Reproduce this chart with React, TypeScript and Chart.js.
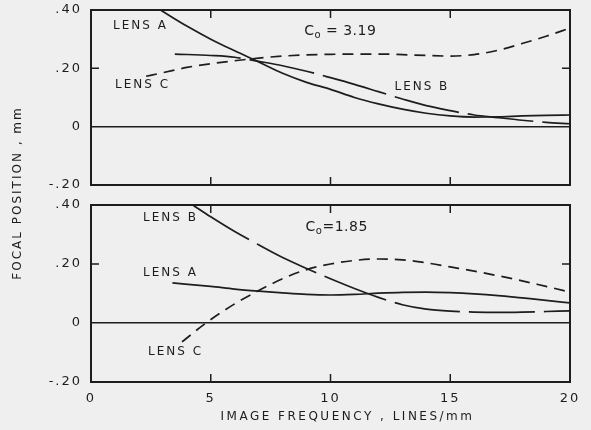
import React, { useEffect, useRef } from 'react';
import { Chart, registerables } from 'chart.js';

Chart.register(...registerables);

const INK = '#1d1d1d';
const PAPER = '#efefef';
const FONT = '"DejaVu Sans", "Liberation Sans", sans-serif';

const xTickValues = [0, 5, 10, 15, 20];
const xTickLabels = ['0', '5', '10', '15', '20'];
const yTickValues = [-0.2, 0, 0.2, 0.4];
const yTickLabels = ['-.20', '0', '.20', '.40'];
const innerXTicks = [5, 10, 15];
const innerYTicks = [0.2];

// Upper panel, C0 = 3.19
const upperLensAFreq = [2.9, 4, 5, 6, 7, 8, 9, 10, 11, 12, 13, 14, 15, 16, 17, 18, 19, 20];
const upperLensAFocus = [0.4, 0.345, 0.3, 0.26, 0.222, 0.183, 0.152, 0.128, 0.1, 0.078, 0.06, 0.046, 0.037, 0.033, 0.034, 0.037, 0.039, 0.04];
const upperLensBFreq = [3.5, 5, 6, 7, 8, 9, 10, 11, 12, 13, 14, 15, 16, 17, 18, 19, 20];
const upperLensBFocus = [0.249, 0.244, 0.238, 0.224, 0.209, 0.19, 0.168, 0.145, 0.12, 0.095, 0.072, 0.055, 0.04, 0.031, 0.022, 0.015, 0.01];
const upperLensCFreq = [2.3, 3, 4, 5, 6, 7, 8, 9, 10, 11, 12, 13, 14, 15, 16, 17, 18, 19, 20];
const upperLensCFocus = [0.173, 0.185, 0.203, 0.216, 0.226, 0.235, 0.242, 0.246, 0.248, 0.249, 0.249, 0.247, 0.244, 0.242, 0.247, 0.262, 0.285, 0.31, 0.338];

// Lower panel, C0 = 1.85
const lowerLensAFreq = [3.4, 5, 6, 7, 8, 9, 10, 11, 12, 13, 14, 15, 16, 17, 18, 19, 20];
const lowerLensAFocus = [0.136, 0.124, 0.115, 0.108, 0.102, 0.097, 0.095, 0.097, 0.101, 0.104, 0.105, 0.103, 0.099, 0.093, 0.085, 0.077, 0.068];
const lowerLensBFreq = [4.25, 5, 6, 7, 8, 9, 10, 11, 12, 13, 14, 15, 16, 17, 18, 19, 20];
const lowerLensBFocus = [0.4, 0.36, 0.31, 0.265, 0.222, 0.185, 0.15, 0.117, 0.087, 0.062, 0.047, 0.04, 0.037, 0.036, 0.037, 0.039, 0.041];
const lowerLensCFreq = [3.8, 4.8, 6, 7, 8, 9, 10, 11, 12, 13, 14, 15, 16, 17, 18, 19, 20];
const lowerLensCFocus = [-0.064, 0, 0.065, 0.11, 0.15, 0.181, 0.2, 0.212, 0.217, 0.214, 0.204, 0.19, 0.176, 0.16, 0.143, 0.124, 0.105];

// Curve labels (text, x value, y value)
const upperNotes = [
  { text: 'LENS A', x: 0.92, y: 0.345 },
  { text: 'LENS C', x: 1.0, y: 0.143 },
  { text: 'LENS B', x: 12.67, y: 0.136 },
];
const lowerNotes = [
  { text: 'LENS B', x: 2.17, y: 0.356 },
  { text: 'LENS A', x: 2.17, y: 0.169 },
  { text: 'LENS C', x: 2.38, y: -0.098 },
];
const upperCoeff = { main: 'C', sub: 'o', rest: ' = 3.19', x: 8.9, y: 0.328 };
const lowerCoeff = { main: 'C', sub: 'o', rest: '=1.85', x: 8.96, y: 0.325 };

const X_TITLE = 'IMAGE FREQUENCY , LINES/mm';
const Y_TITLE = 'FOCAL POSITION , mm';

const pts = (xs: number[], ys: number[]) => xs.map((x, i) => ({ x, y: ys[i] }));

const decor = {
  id: 'panelDecor',
  beforeDraw(chart: any) {
    chart.ctx.letterSpacing = '2px';
  },
  afterDatasetsDraw(chart: any) {
    const { ctx, chartArea: a, scales } = chart;
    ctx.save();
    ctx.strokeStyle = INK;
    ctx.lineWidth = 2;
    ctx.strokeRect(a.left, a.top, a.right - a.left, a.bottom - a.top);
    ctx.lineWidth = 1.5;
    ctx.beginPath();
    for (const v of innerXTicks) {
      const px = scales.x.getPixelForValue(v);
      ctx.moveTo(px, a.top);
      ctx.lineTo(px, a.top + 8);
      ctx.moveTo(px, a.bottom);
      ctx.lineTo(px, a.bottom - 8);
    }
    for (const v of innerYTicks) {
      const py = scales.y.getPixelForValue(v);
      ctx.moveTo(a.left, py);
      ctx.lineTo(a.left + 8, py);
      ctx.moveTo(a.right, py);
      ctx.lineTo(a.right - 8, py);
    }
    ctx.stroke();
    ctx.restore();
  },
  afterDraw(chart: any, _args: any, opts: any) {
    const { ctx, chartArea: a, scales } = chart;
    ctx.save();
    ctx.fillStyle = INK;
    ctx.textBaseline = 'middle';
    ctx.textAlign = 'left';
    ctx.letterSpacing = '2px';
    ctx.font = `12px ${FONT}`;
    for (const n of opts.notes || []) {
      ctx.fillText(n.text, scales.x.getPixelForValue(n.x), scales.y.getPixelForValue(n.y));
    }
    const c = opts.coeff;
    if (c) {
      let px = scales.x.getPixelForValue(c.x);
      const py = scales.y.getPixelForValue(c.y);
      ctx.letterSpacing = '0.5px';
      ctx.font = `14px ${FONT}`;
      ctx.fillText(c.main, px, py);
      px += ctx.measureText(c.main).width;
      ctx.font = `10px ${FONT}`;
      ctx.fillText(c.sub, px, py + 4);
      px += ctx.measureText(c.sub).width;
      ctx.font = `14px ${FONT}`;
      ctx.fillText(c.rest, px, py);
    }
    if (opts.titles) {
      ctx.font = `12px ${FONT}`;
      ctx.textAlign = 'center';
      ctx.letterSpacing = '2.5px';
      ctx.fillText(X_TITLE, (a.left + a.right) / 2 + 17, a.bottom + 35);
      ctx.letterSpacing = '2px';
      ctx.translate(18, a.top - 12);
      ctx.rotate(-Math.PI / 2);
      ctx.fillText(Y_TITLE, 0, 0);
    }
    ctx.restore();
  },
};

function makeChart(canvas: HTMLCanvasElement, bottom: boolean) {
  const A = bottom ? pts(lowerLensAFreq, lowerLensAFocus) : pts(upperLensAFreq, upperLensAFocus);
  const B = bottom ? pts(lowerLensBFreq, lowerLensBFocus) : pts(upperLensBFreq, upperLensBFocus);
  const C = bottom ? pts(lowerLensCFreq, lowerLensCFocus) : pts(upperLensCFreq, upperLensCFocus);
  const line = (label: string, data: any[], dash: number[]) => ({
    label,
    data,
    borderColor: INK,
    borderWidth: 1.7,
    borderDash: dash,
    pointRadius: 0,
    fill: false,
    cubicInterpolationMode: 'monotone',
  });
  return new Chart(canvas, {
    type: 'line',
    data: {
      datasets: [
        line('LENS A', A, []),
        line('LENS B', B, [66, 9]),
        line('LENS C', C, [11, 7]),
      ],
    },
    plugins: [decor],
    options: {
      responsive: false,
      animation: false,
      events: [],
      layout: {
        padding: bottom
          ? { left: 0, right: 21, top: 205, bottom: 0 }
          : { left: 0, right: 21, top: 10, bottom: 245 },
      },
      plugins: {
        legend: { display: false },
        tooltip: { enabled: false },
        panelDecor: {
          notes: bottom ? lowerNotes : upperNotes,
          coeff: bottom ? lowerCoeff : upperCoeff,
          titles: bottom,
        },
      } as any,
      scales: {
        x: {
          type: 'linear',
          min: 0,
          max: 20,
          display: bottom,
          afterBuildTicks: (s: any) => {
            s.ticks = xTickValues.map((value) => ({ value }));
          },
          afterFit: (s: any) => {
            s.height = bottom ? 48 : 0;
            s.paddingLeft = 0;
            s.paddingRight = 0;
          },
          ticks: {
            autoSkip: false,
            maxRotation: 0,
            padding: 9,
            color: INK,
            font: { family: FONT, size: 13 },
            callback: (v: any) => {
              const i = xTickValues.findIndex((t) => Math.abs(t - v) < 1e-9);
              return i >= 0 ? xTickLabels[i] : '';
            },
          },
          grid: { display: false, drawTicks: false },
          border: { display: false },
        },
        y: {
          type: 'linear',
          min: -0.2,
          max: 0.4,
          afterBuildTicks: (s: any) => {
            s.ticks = yTickValues.map((value) => ({ value }));
          },
          afterFit: (s: any) => {
            s.width = 91;
            s.paddingTop = 0;
            s.paddingBottom = 0;
          },
          ticks: {
            padding: 9,
            color: INK,
            font: { family: FONT, size: 13 },
            callback: (v: any) => {
              const i = yTickValues.findIndex((t) => Math.abs(t - v) < 1e-9);
              return i >= 0 ? yTickLabels[i] : '';
            },
          },
          grid: {
            drawTicks: false,
            lineWidth: 1.6,
            color: (c: any) => (c.tick && Math.abs(c.tick.value) < 1e-9 ? INK : 'rgba(0,0,0,0)'),
          },
          border: { display: false },
        },
      },
    } as any,
  });
}

export default function App() {
  const topRef = useRef<HTMLCanvasElement>(null);
  const botRef = useRef<HTMLCanvasElement>(null);
  useEffect(() => {
    const c1 = makeChart(topRef.current as HTMLCanvasElement, false);
    const c2 = makeChart(botRef.current as HTMLCanvasElement, true);
    return () => {
      c1.destroy();
      c2.destroy();
    };
  }, []);
  const cs: React.CSSProperties = { position: 'absolute', left: 0, top: 0, width: 591, height: 430 };
  return (
    <div style={{ position: 'fixed', left: 0, top: 0, width: 591, height: 430, background: PAPER }}>
      <canvas ref={topRef} width={591} height={430} style={cs} />
      <canvas ref={botRef} width={591} height={430} style={cs} />
    </div>
  );
}
